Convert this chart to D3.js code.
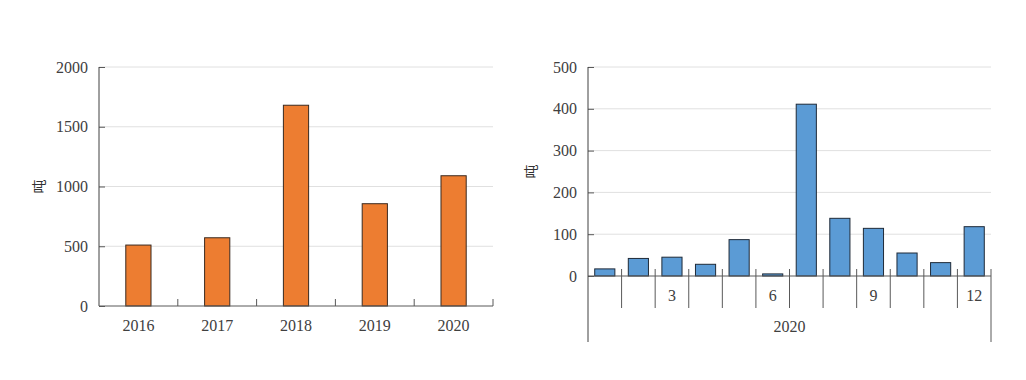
<!DOCTYPE html>
<html><head><meta charset="utf-8">
<script src="https://cdn.jsdelivr.net/npm/d3@7"></script>
<style>body{margin:0;background:#fff}svg{display:block}</style>
</head><body>
<svg id="c" width="1026" height="380"></svg>
<script>
const years = ["2016","2017","2018","2019","2020"];
const yearValues = [510, 571, 1680, 856, 1090];
const yearTicks = [0, 500, 1000, 1500, 2000];

const months = [1,2,3,4,5,6,7,8,9,10,11,12];
const monthValues = [17, 42, 45, 28, 87, 5, 411, 138, 114, 55, 32, 118];
const monthLabels = ["","","3","","","6","","","9","","","12"];
const monthYear = "2020";
const monthTicks = [0, 100, 200, 300, 400, 500];
const unitLabel = "吨";

const svg = d3.select("#c");
const serif = "'Liberation Serif','Times New Roman',serif";
const axisCol = "#595959";
const textCol = "#404040";
const gridCol = "#e0e0e0";

function styleAxis(g){
  g.selectAll("text").attr("font-family", serif).attr("font-size", 16).attr("fill", textCol);
  g.selectAll("line").attr("stroke", axisCol);
  g.select(".domain").remove();
}

// ---------- Left chart ----------
{
  const L = 99, R = 493, T = 67, B = 306;
  const x = d3.scaleBand().domain(years).range([L, R]).padding(0);
  const y = d3.scaleLinear().domain([0, 2000]).range([B, T]);
  const g = svg.append("g");
  // grid
  g.selectAll(".grid").data(yearTicks.filter(d => d > 0)).join("line")
    .attr("x1", L).attr("x2", R).attr("y1", d => y(d)).attr("y2", d => y(d))
    .attr("stroke", gridCol).attr("stroke-width", 1);
  // bars
  const bw = x.bandwidth() * 0.32;
  g.selectAll("rect").data(years).join("rect")
    .attr("x", (d) => x(d) + x.bandwidth()/2 - bw/2)
    .attr("width", bw)
    .attr("y", (d,i) => y(yearValues[i]))
    .attr("height", (d,i) => B - y(yearValues[i]))
    .attr("fill", "#ED7D31").attr("stroke", "#3a2a20").attr("stroke-width", 1);
  // y axis
  const ya = g.append("g").attr("transform", `translate(${L},0)`)
    .call(d3.axisLeft(y).tickValues(yearTicks).tickSize(-6).tickPadding(11).tickFormat(d3.format("d")));
  styleAxis(ya);
  g.append("line").attr("x1", L).attr("x2", L).attr("y1", T).attr("y2", B).attr("stroke", "#404040");
  // x axis
  const xa = g.append("g").attr("transform", `translate(0,${B})`)
    .call(d3.axisBottom(x).tickSize(0).tickPadding(14));
  styleAxis(xa);
  g.append("line").attr("x1", L).attr("x2", R).attr("y1", B).attr("y2", B).attr("stroke", axisCol);
  g.selectAll(".bt").data(years).join("line")
    .attr("x1", d => x(d) + x.bandwidth()).attr("x2", d => x(d) + x.bandwidth())
    .attr("y1", B - 7).attr("y2", B).attr("stroke", axisCol);
  // unit label
  g.append("text").attr("transform", `translate(44,${(T+B)/2}) rotate(-90)`)
    .attr("text-anchor", "middle").attr("font-family", "'Noto Sans CJK SC',sans-serif")
    .attr("font-size", 14).attr("fill", "#333").text(unitLabel);
}

// ---------- Right chart ----------
{
  const L = 588, R = 991, T = 67, B = 276;
  const x = d3.scaleBand().domain(months).range([L, R]).padding(0);
  const y = d3.scaleLinear().domain([0, 500]).range([B, T]);
  const g = svg.append("g");
  g.selectAll(".grid").data(monthTicks.filter(d => d > 0)).join("line")
    .attr("x1", L).attr("x2", R).attr("y1", d => y(d)).attr("y2", d => y(d))
    .attr("stroke", gridCol).attr("stroke-width", 1);
  const bw = x.bandwidth() * 0.6;
  g.selectAll("rect").data(months).join("rect")
    .attr("x", d => x(d) + x.bandwidth()/2 - bw/2)
    .attr("width", bw)
    .attr("y", (d,i) => y(monthValues[i]))
    .attr("height", (d,i) => B - y(monthValues[i]))
    .attr("fill", "#5B9BD5").attr("stroke", "#1f2a38").attr("stroke-width", 1);
  const ya = g.append("g").attr("transform", `translate(${L},0)`)
    .call(d3.axisLeft(y).tickValues(monthTicks).tickSize(-6).tickPadding(11).tickFormat(d3.format("d")));
  styleAxis(ya);
  // x axis: month labels
  const xa = g.append("g").attr("transform", `translate(0,${B})`)
    .call(d3.axisBottom(x).tickSize(0).tickPadding(14).tickFormat((d,i) => monthLabels[i]));
  styleAxis(xa);
  g.append("line").attr("x1", L).attr("x2", R).attr("y1", B).attr("y2", B).attr("stroke", axisCol);
  // separators between months
  g.selectAll(".sep").data(months.slice(0, -1)).join("line")
    .attr("x1", d => x(d) + x.bandwidth()).attr("x2", d => x(d) + x.bandwidth())
    .attr("y1", B - 7).attr("y2", B + 32).attr("stroke", axisCol);
  // outer lines
  g.append("line").attr("x1", L).attr("x2", L).attr("y1", T).attr("y2", B + 66).attr("stroke", "#404040");
  g.append("line").attr("x1", R).attr("x2", R).attr("y1", B - 7).attr("y2", B + 66).attr("stroke", axisCol);
  // year group label
  g.append("text").attr("x", (L + R)/2).attr("y", B + 56).attr("text-anchor", "middle")
    .attr("font-family", serif).attr("font-size", 16).attr("fill", textCol).text(monthYear);
  g.append("text").attr("transform", `translate(536,${(T+B)/2}) rotate(-90)`)
    .attr("text-anchor", "middle").attr("font-family", "'Noto Sans CJK SC',sans-serif")
    .attr("font-size", 14).attr("fill", "#333").text(unitLabel);
}
</script>
</body></html>
